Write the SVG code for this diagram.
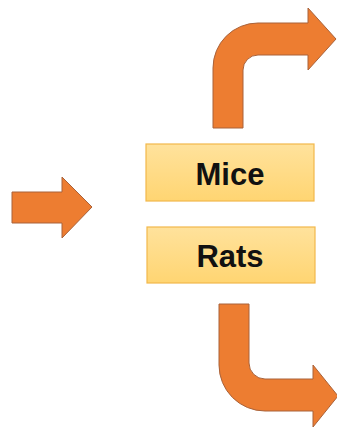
<svg xmlns="http://www.w3.org/2000/svg" width="337" height="428" viewBox="0 0 337 428">
  <defs>
    <linearGradient id="boxFill" x1="0" y1="0" x2="0" y2="1">
      <stop offset="0" stop-color="#FFE29C"/>
      <stop offset="1" stop-color="#FFD572"/>
    </linearGradient>
  </defs>
  <style>
    .arrow { fill: #ED7D31; stroke: #A9623A; stroke-width: 1; stroke-linejoin: miter; }
    .box { fill: url(#boxFill); stroke: #F2B84B; stroke-width: 1.2; }
    .label { font-family: "Liberation Sans", Arial, sans-serif; font-weight: bold; font-size: 31px; fill: #111111; text-anchor: middle; }
  </style>
  <rect width="337" height="428" fill="#FFFFFF"/>
  <g id="connectors">
    <path class="arrow" d="M12,192 L62,192 L62,177 L92,207 L62,238 L62,223 L12,223 Z"/>
    <path class="arrow" d="M213,128 L213,68 A45,45 0 0 1 258,23 L308,23 L308,8 L336,39 L308,70 L308,55 L258,55 A15,15 0 0 0 243,70 L243,128 Z"/>
    <path class="arrow" d="M219,304 L219,365 A46,46 0 0 0 265,411 L313,411 L313,427 L338,396 L313,365 L313,379 L265,379 A16,16 0 0 1 249,363 L249,304 Z"/>
  </g>
  <g id="mice">
    <rect class="box" x="146" y="144" width="168" height="57"/>
    <text class="label" x="230" y="185">Mice</text>
  </g>
  <g id="rats">
    <rect class="box" x="147" y="227" width="168" height="56"/>
    <text class="label" x="230" y="267">Rats</text>
  </g>
</svg>
